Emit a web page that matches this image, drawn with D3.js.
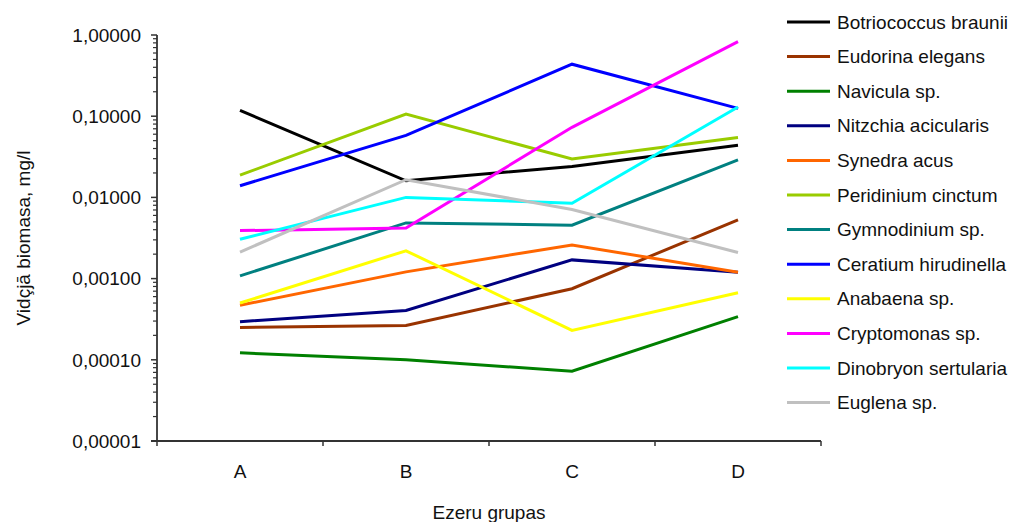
<!DOCTYPE html>
<html lang="lv">
<head>
  <meta charset="UTF-8" />
  <title>Vidējā biomasa pa ezeru grupām</title>
  <script src="https://d3js.org/d3.v7.min.js"></script>
  <style>
    body {
      margin: 0;
      background: #fff;
      font-family: "Liberation Sans", Arial, sans-serif;
    }
    .line {
      fill: none;
      stroke-width: 3px;
      stroke-linejoin: miter;
    }
    .tick-label, .legend, .axis-title {
      font-size: 19px;
      fill: #111;
    }
  </style>
</head>
<body>
  <svg id="chart"></svg>
  <script>
    // grupas un sugas
    const categories = ["A", "B", "C", "D"];
    const species = [
      "Botriococcus braunii", "Eudorina elegans", "Navicula sp.", "Nitzchia acicularis",
      "Synedra acus", "Peridinium cinctum", "Gymnodinium sp.", "Ceratium hirudinella",
      "Anabaena sp.", "Cryptomonas sp.", "Dinobryon sertularia", "Euglena sp."
    ];
    const colors = [
      "#000000", "#993300", "#008000", "#000080",
      "#ff6600", "#99cc00", "#008080", "#0000ff",
      "#ffff00", "#ff00ff", "#00ffff", "#c0c0c0"
    ];
    // vidējā biomasa, mg/l (A, B, C, D)
    const botriococcus = [0.118, 0.0160, 0.0240, 0.0440];
    const eudorina     = [0.000250, 0.000265, 0.000750, 0.00530];
    const navicula     = [0.000122, 0.000100, 0.0000725, 0.000340];
    const nitzchia     = [0.000295, 0.000405, 0.00170, 0.00120];
    const synedra      = [0.000470, 0.00121, 0.00260, 0.00120];
    const peridinium   = [0.0188, 0.106, 0.0298, 0.0545];
    const gymnodinium  = [0.00108, 0.00485, 0.00455, 0.0290];
    const ceratium     = [0.0139, 0.0580, 0.437, 0.125];
    const anabaena     = [0.000500, 0.00220, 0.000230, 0.000670];
    const cryptomonas  = [0.00390, 0.00420, 0.0730, 0.830];
    const dinobryon    = [0.00305, 0.0100, 0.00845, 0.130];
    const euglena      = [0.00212, 0.0165, 0.00710, 0.00210];
    const values = [botriococcus, eudorina, navicula, nitzchia, synedra, peridinium,
                    gymnodinium, ceratium, anabaena, cryptomonas, dinobryon, euglena];
    const yTicks = [1, 0.1, 0.01, 0.001, 0.0001, 0.00001];

    const W = 1014, H = 522;
    const plot = { left: 157, right: 821, top: 35, bottom: 441 };

    const svg = d3.select("#chart").attr("width", W).attr("height", H);

    const x = d3.scaleBand().domain(categories).range([plot.left, plot.right]);
    const y = d3.scaleLog().domain([0.00001, 1]).range([plot.bottom, plot.top]);

    const fmt = v => d3.format(".5f")(v).replace(".", ",");

    // Y ass
    const minor = [];
    for (let e = -5; e < 0; e++) {
      for (let m = 2; m <= 9; m++) minor.push(m * Math.pow(10, e));
    }
    const yAxis = svg.append("g").attr("transform", `translate(${plot.left},0)`);
    yAxis.selectAll(".minor").data(minor).join("line")
      .attr("x1", -4).attr("x2", 0)
      .attr("y1", d => y(d)).attr("y2", d => y(d))
      .attr("stroke", "#333").attr("stroke-width", 1.2);
    yAxis.selectAll(".major").data(yTicks).join("line")
      .attr("x1", -6).attr("x2", 0)
      .attr("y1", d => y(d)).attr("y2", d => y(d))
      .attr("stroke", "#333").attr("stroke-width", 1.5);
    yAxis.selectAll("text").data(yTicks).join("text")
      .attr("class", "tick-label")
      .attr("x", -16).attr("y", d => y(d)).attr("dy", "0.36em")
      .attr("text-anchor", "end")
      .text(fmt);
    yAxis.append("line")
      .attr("x1", 0).attr("x2", 0).attr("y1", plot.top).attr("y2", plot.bottom)
      .attr("stroke", "#333").attr("stroke-width", 1.8);

    // X ass
    const xAxis = svg.append("g").attr("transform", `translate(0,${plot.bottom})`);
    const bounds = categories.map(c => x(c)).concat([plot.right]);
    xAxis.selectAll("line.tk").data(bounds).join("line")
      .attr("x1", d => d).attr("x2", d => d).attr("y1", 0).attr("y2", 5)
      .attr("stroke", "#333").attr("stroke-width", 1.5);
    xAxis.append("line")
      .attr("x1", plot.left - 6).attr("x2", plot.right).attr("y1", 0).attr("y2", 0)
      .attr("stroke", "#333").attr("stroke-width", 1.8);
    xAxis.selectAll("text").data(categories).join("text")
      .attr("class", "tick-label")
      .attr("x", d => x(d) + x.bandwidth() / 2).attr("y", 37)
      .attr("text-anchor", "middle")
      .text(d => d);

    svg.append("text")
      .attr("class", "axis-title")
      .attr("x", (plot.left + plot.right) / 2).attr("y", 519)
      .attr("text-anchor", "middle")
      .text("Ezeru grupas");

    svg.append("text")
      .attr("class", "axis-title")
      .attr("transform", `translate(30,${(plot.top + plot.bottom) / 2}) rotate(-90)`)
      .attr("text-anchor", "middle")
      .text("Vidçjā biomasa, mg/l");

    // līnijas
    const line = d3.line()
      .x((d, i) => x(categories[i]) + x.bandwidth() / 2)
      .y(d => y(d));

    values.forEach((vals, i) => {
      svg.append("path")
        .datum(vals)
        .attr("class", "line")
        .attr("stroke", colors[i])
        .attr("d", line);
    });

    // leģenda
    const legend = svg.append("g").attr("transform", "translate(787,22)");
    species.forEach((s, i) => {
      const g = legend.append("g").attr("transform", `translate(0,${i * 34.6})`);
      g.append("line")
        .attr("x1", 0).attr("x2", 43).attr("y1", 0).attr("y2", 0)
        .attr("stroke", colors[i]).attr("stroke-width", 3);
      g.append("text")
        .attr("class", "legend")
        .attr("x", 50).attr("y", 0).attr("dy", "0.35em")
        .text(s);
    });
  </script>
</body>
</html>
